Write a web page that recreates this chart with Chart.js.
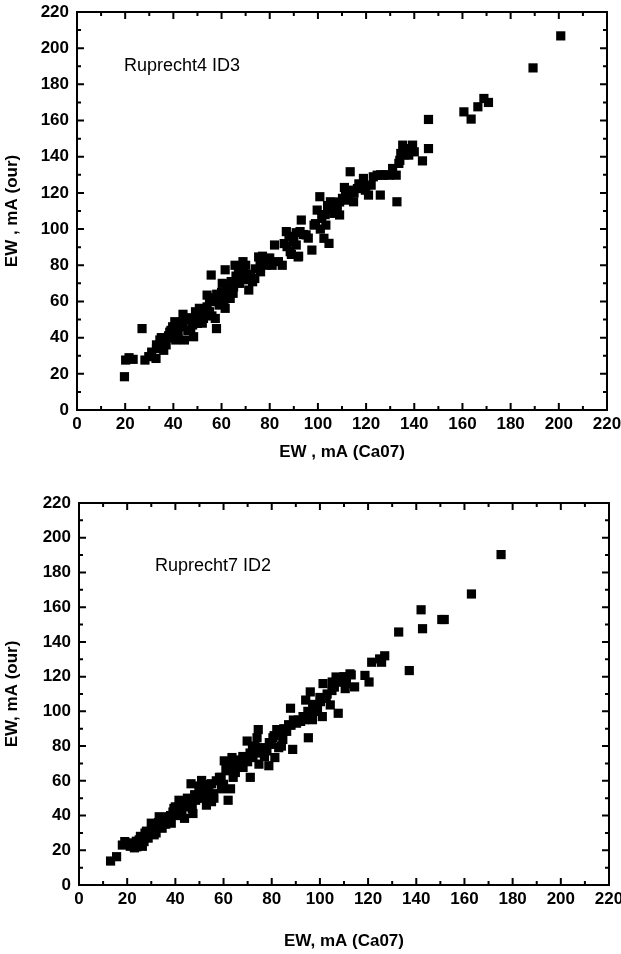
<!DOCTYPE html>
<html>
<head>
<meta charset="utf-8">
<script src="https://cdn.jsdelivr.net/npm/chart.js@4.4.0/dist/chart.umd.min.js"></script>
<style>
  body { margin: 0; background: #fff; }
  .box { width: 621px; height: 477px; position: relative; }
</style>
</head>
<body>
<div class="box"><canvas id="top-plot"></canvas></div>
<div class="box"><canvas id="bottom-plot"></canvas></div>
<script>
// Ruprecht4 ID3: x = EW (Ca07), y = EW (our)
const r4Ca07 = [19.7,20.2,21.6,23.3,27,28.2,29.8,32.8,33,34.4,36,37,37.7,38.5,39.7,40.6,41,42.6,44,44.6,45.9,47.2,48.4,49.2,50,50.8,52.5,54,55,55.7,56.6,57.4,57.9,59,60.3,61.5,61.5,62.3,63.6,64.8,65.6,66.4,67.5,68.9,69.7,71.3,72.9,73.8,75.4,76.2,77,78.4,79.5,82,83.6,85.2,86.9,87.2,88.5,89.8,91,91.8,92.6,93.1,95.1,97.5,98.4,99.7,100.8,101.6,102.5,103.3,104.6,105.2,106.6,107.9,109,110.2,111.5,112.8,113.4,114.8,116.4,118.9,119.7,121,122.1,123,124.6,125.9,127,129.5,131,132.5,132.8,133.6,134.4,135.2,136,137.7,139.3,140,143.4,145.9,145.9,160.6,163.6,166.4,168.9,170.8,189.3,200.8,
  31,33,35,36,38,39,40,41,42,43,44,45,46,47,48,49,50,51,52,53,54,55,56,57,58,59,60,61,62,63,64,65,66,67,68,69,70,71,72,74,76,77,78,80,81,86,88,89,90,91,92,94,96,99,101,103,104,106,108,109,111,112,113,115,117,120,126,128,134,136,138];
const r4Our = [18.4,27.6,28.9,28,45,27.6,29.5,28.5,36,38.7,33,36,39.8,43,46,48.8,38.7,47,52.9,38.7,49.7,44.2,40.5,54.3,47.9,56.2,50.6,63.5,54.3,74.6,59.9,50.6,45,58,70,77.5,56.2,67.4,61.7,64.5,80,72.7,70,82,74.6,66.3,70.9,72.7,84.6,76.4,82,80,83.8,91.2,82,80,98.6,90.3,87.5,94.9,91.2,84.6,98.6,105,96.8,88.4,102.2,110.5,117.9,105.9,94.9,102.2,92.1,115.1,108.7,113.3,107.8,117,120.6,121.5,131.7,115.1,122.4,128,121.5,118.8,124.3,128.9,129.8,118.8,129.8,129.8,133.5,129.8,115.1,136.3,141.8,146.4,144.5,140.9,146.4,142.7,137.7,144.5,160.6,164.8,160.8,167.6,172.2,170,189.1,206.8,
  32,34,40,37,41,44,42,45,43,48,46,50,44,51,47,49,52,53,48,55,57,60,52,62,64,61,65,60,63,69,71,68,74,76,73,78,80,72,75,78,80,85,83,84,80,92,96,86,93,98,85,97,95,103,100,108,113,111,110,115,123,116,118,120,125,124,130,130,138,141,143];

// Ruprecht7 ID2
const r7Ca07 = [13.1,15.6,20.5,21.3,23,23.8,25.5,26.3,27.4,28.7,30,31.2,32.3,33.3,34.5,35.6,36.9,38.3,39.4,40.2,41.5,42.7,43.8,45.2,46.5,47.3,48.4,49.8,50.9,51.7,52.9,53.4,55,55.8,58.3,59.1,60.3,61.2,61.9,62.9,63.5,64.9,66.5,68.1,69.8,71.1,72.2,73.9,74.4,74.7,76.4,78,78.8,80.5,81.3,82.1,82.9,84.6,86.2,87,87.8,88.7,90.3,92,93.6,94.1,95.2,96,96.9,98.5,100.2,101,101.3,102.6,104.3,105.1,106.7,107.6,109.2,110.5,112.5,114.4,118.7,120.4,121.5,124.8,125.6,126.9,132.7,137.1,142,142.6,150.6,151.6,162.9,175.2,
  18,19,22,24,25,26,27,28,29,30,31,32,33,34,35,36,37,38,39,40,41,42,43,44,45,46,47,48,49,50,51,52,53,54,55,56,57,59,60,61,62,63,64,65,66,67,68,70,71,72,73,75,76,77,79,80,81,83,84,85,88,89,91,93,95,97,99,100,103,105,106,108,110,111,113];
const r7Our = [13.8,16.3,24.2,22.3,21.4,25.2,28,22.3,29.9,27,35.6,28.9,33.6,39.3,32.7,37.5,39.3,35.6,44.1,41.2,48.8,43.1,38.4,46.9,58.3,41.2,48.8,54.5,60.2,51.6,46,56.4,58.3,52.6,62,55.4,71.5,65.8,48.8,55.4,73.4,64.8,71.5,67.7,82.9,62,73.4,84.8,89.5,69.6,79.1,77.2,68.7,84.8,73.4,89.5,79.1,83.8,88.5,92.3,101.8,78.1,93.2,94.2,95.2,106.5,84.8,111.2,95.2,99.9,105.6,97,116,107.5,103.7,116.9,119.8,98.9,116.9,113.1,121.6,114.1,120.7,116.9,128.3,130.2,128.3,132,145.7,123.5,158.5,147.6,152.9,152.9,167.6,190.3,
  23,25,24,22,26,27,25,31,30,31,33,30,36,35,36,35,38,40,42,45,40,46,47,45,50,48,44,52,50,57,55,50,53,58,48,50,60,62,58,67,70,67,62,72,68,70,74,71,76,78,80,76,77,74,82,81,86,88,80,90,92,95,95,97,100,104,102,108,110,112,114,117,120,116,121];

const tickValues = [0,20,40,60,80,100,120,140,160,180,200,220];

// inward ticks on all four sides + box + label text
const framePlugin = {
  id: 'frame',
  afterDraw(chart, args, opts) {
    const ctx = chart.ctx;
    const a = chart.chartArea;
    const xs = chart.scales.x, ys = chart.scales.y;
    ctx.save();
    ctx.strokeStyle = '#000';
    ctx.lineWidth = 2;
    ctx.strokeRect(a.left, a.top, a.right - a.left, a.bottom - a.top);
    ctx.beginPath();
    for (let v = 0; v <= 220; v += 10) {
      const len = v % 20 === 0 ? 7 : 4;
      const px = xs.getPixelForValue(v);
      ctx.moveTo(px, a.bottom); ctx.lineTo(px, a.bottom - len);
      ctx.moveTo(px, a.top); ctx.lineTo(px, a.top + len);
      const py = ys.getPixelForValue(v);
      ctx.moveTo(a.left, py); ctx.lineTo(a.left + len, py);
      ctx.moveTo(a.right, py); ctx.lineTo(a.right - len, py);
    }
    ctx.stroke();
    ctx.fillStyle = '#000';
    ctx.font = '18px "Liberation Sans", Arial';
    ctx.textBaseline = 'middle';
    ctx.fillText(opts.label, opts.lx, opts.ly);
    ctx.restore();
  }
};

function makeChart(id, xs, ys, xTitle, yTitle, pad, xH, titleBottom, label, lx, ly) {
  const pts = xs.map((x, i) => ({ x: x, y: ys[i] }));
  return new Chart(document.getElementById(id), {
    type: 'scatter',
    data: {
      datasets: [{
        data: pts,
        pointStyle: 'rect',
        pointRadius: 6.5,
        pointHoverRadius: 6.5,
        backgroundColor: '#000',
        borderWidth: 0
      }]
    },
    options: {
      responsive: true,
      maintainAspectRatio: false,
      animation: false,
      layout: { padding: pad },
      plugins: {
        legend: { display: false },
        tooltip: { enabled: false },
        frame: { label: label, lx: lx, ly: ly }
      },
      scales: {
        x: {
          type: 'linear', min: 0, max: 220,
          afterBuildTicks: s => { s.ticks = tickValues.map(v => ({ value: v })); },
          afterFit: s => { s.height = xH; s.paddingLeft = 0; s.paddingRight = 0; },
          grid: { display: false, drawTicks: false },
          border: { display: false },
          ticks: { color: '#000', font: { size: 17, weight: 'bold', family: '"Liberation Sans", Arial' }, padding: 4, maxRotation: 0, autoSkip: false },
          title: { display: true, text: xTitle, color: '#000', font: { size: 17, weight: 'bold', family: '"Liberation Sans", Arial' }, padding: { top: 10, bottom: titleBottom } }
        },
        y: {
          type: 'linear', min: 0, max: 220,
          afterBuildTicks: s => { s.ticks = tickValues.map(v => ({ value: v })); },
          afterFit: s => { s.width = pad.yW; s.paddingTop = 0; s.paddingBottom = 0; },
          grid: { display: false, drawTicks: false },
          border: { display: false },
          ticks: { color: '#000', font: { size: 17, weight: 'bold', family: '"Liberation Sans", Arial' }, padding: 8, autoSkip: false },
          title: { display: true, text: yTitle, color: '#000', font: { size: 17, weight: 'bold', family: '"Liberation Sans", Arial' }, padding: { top: 2, bottom: 6 } }
        }
      }
    },
    plugins: [framePlugin]
  });
}

makeChart('top-plot', r4Ca07, r4Our, 'EW , mA (Ca07)', 'EW , mA (our)',
  { left: 0, right: 14, top: 12, bottom: 0, yW: 77 }, 67, 14, 'Ruprecht4 ID3', 124, 66);
makeChart('bottom-plot', r7Ca07, r7Our, 'EW, mA (Ca07)', 'EW, mA (our)',
  { left: 0, right: 12, top: 26, bottom: 0, yW: 79 }, 69, 2, 'Ruprecht7 ID2', 155, 89);
</script>
</body>
</html>
